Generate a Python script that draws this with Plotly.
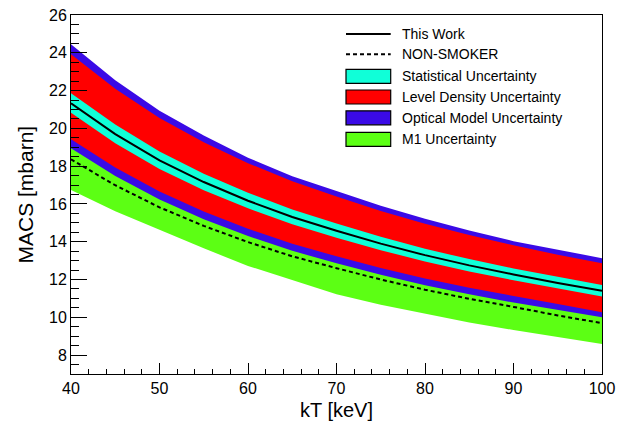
import plotly.graph_objects as go

kT = [40, 45, 50, 55, 60, 65, 70, 75, 80, 85, 90, 95, 100]
this_work = [21.33, 19.70, 18.31, 17.16, 16.17, 15.31, 14.58, 13.90, 13.29, 12.75, 12.27, 11.82, 11.41]
non_smoker = [18.36, 16.99, 15.82, 14.84, 13.98, 13.23, 12.60, 12.00, 11.46, 10.98, 10.55, 10.10, 9.69]
stat_hi = [21.86, 20.21, 18.78, 17.60, 16.59, 15.71, 14.96, 14.26, 13.63, 13.08, 12.59, 12.13, 11.71]
stat_lo = [20.83, 19.21, 17.85, 16.73, 15.77, 14.93, 14.21, 13.55, 12.96, 12.43, 11.96, 11.52, 11.10]
ld_hi = [23.92, 22.10, 20.55, 19.27, 18.16, 17.20, 16.39, 15.63, 14.95, 14.35, 13.81, 13.31, 12.86]
ld_lo = [19.42, 17.93, 16.66, 15.60, 14.69, 13.90, 13.23, 12.61, 12.05, 11.56, 11.12, 10.70, 10.27]
om_hi = [24.45, 22.55, 20.93, 19.62, 18.45, 17.47, 16.68, 15.90, 15.22, 14.60, 14.03, 13.56, 13.13]
om_lo = [18.95, 17.48, 16.23, 15.19, 14.30, 13.52, 12.86, 12.25, 11.70, 11.22, 10.78, 10.38, 10.00]
m1_hi = [19.42, 17.93, 16.66, 15.60, 14.69, 13.90, 13.23, 12.61, 12.05, 11.56, 11.12, 10.70, 10.27]
m1_lo = [16.74, 15.62, 14.62, 13.65, 12.72, 11.95, 11.22, 10.67, 10.18, 9.73, 9.33, 8.95, 8.59]

legend_labels = ["This Work", "NON-SMOKER", "Statistical Uncertainty", "Level Density Uncertainty",
                 "Optical Model Uncertainty", "M1 Uncertainty"]
x_title = "kT [keV]"
y_title = "MACS [mbarn]"

C_STAT = "#10FFD8"
C_LD = "#FF0000"
C_OM = "#3A0AE6"
C_M1 = "#5CFF14"
FONT = "Liberation Sans, Arial, Helvetica, sans-serif"

fig = go.Figure()


def band(hi, lo, color, name):
    fig.add_trace(go.Scatter(
        x=kT + kT[::-1], y=hi + lo[::-1], fill="toself", fillcolor=color,
        line=dict(width=0, color=color), mode="lines", name=name,
        showlegend=False, hoverinfo="skip"))


band(m1_hi, m1_lo, C_M1, legend_labels[5])
band(om_hi, om_lo, C_OM, legend_labels[4])
band(ld_hi, ld_lo, C_LD, legend_labels[3])
band(stat_hi, stat_lo, C_STAT, legend_labels[2])
fig.add_trace(go.Scatter(x=kT, y=non_smoker, mode="lines", name=legend_labels[1],
                         line=dict(color="black", width=2, dash="4px,3px"), showlegend=False))
fig.add_trace(go.Scatter(x=kT, y=this_work, mode="lines", name=legend_labels[0],
                         line=dict(color="black", width=2), showlegend=False))

# manual legend (ROOT style, no frame)
W, H = 531.0, 359.0
x0 = (346 - 71) / W
x1 = (390.7 - 71) / W
xt = (400 - 71) / W
rows = [34, 54.3, 76.3, 97, 117.8, 139.3]
shapes = []
annotations = []
for i, (py, lab) in enumerate(zip(rows, legend_labels)):
    yp = (374 - py) / H
    if i == 0:
        shapes.append(dict(type="line", xref="paper", yref="paper", x0=x0, x1=x1, y0=yp, y1=yp,
                           line=dict(color="black", width=2)))
    elif i == 1:
        shapes.append(dict(type="line", xref="paper", yref="paper", x0=x0, x1=x1, y0=yp, y1=yp,
                           line=dict(color="black", width=2, dash="4px,3px")))
    else:
        col = [C_STAT, C_LD, C_OM, C_M1][i - 2]
        hh = 7 / H
        shapes.append(dict(type="rect", xref="paper", yref="paper", x0=x0, x1=x1, y0=yp - hh, y1=yp + hh,
                           fillcolor=col, line=dict(color="black", width=1.2)))
    annotations.append(dict(xref="paper", yref="paper", x=xt, y=yp, text=lab, showarrow=False,
                            xanchor="left", yanchor="middle", font=dict(size=14, color="black", family=FONT)))

# axis titles
annotations.append(dict(xref="paper", yref="paper", x=(336.5 - 71) / W, y=(374 - 409.5) / H,
                        text=x_title, showarrow=False, xanchor="center", yanchor="middle",
                        font=dict(size=20, color="black", family=FONT)))
annotations.append(dict(xref="paper", yref="paper", x=(25 - 71) / W, y=0.5,
                        text=y_title, showarrow=False, xanchor="center", yanchor="middle", textangle=-90,
                        font=dict(size=21, color="black", family=FONT)))

fig.update_layout(
    width=624, height=422,
    margin=dict(l=71, r=22, t=15, b=48),
    paper_bgcolor="white", plot_bgcolor="white",
    font=dict(family=FONT, color="black"),
    shapes=shapes, annotations=annotations,
    showlegend=False,
)
fig.update_xaxes(
    range=[40, 100], dtick=10, tick0=40, ticks="inside", ticklen=11, tickwidth=1, tickcolor="black",
    minor=dict(dtick=2, ticks="inside", ticklen=5.5, tickwidth=1, tickcolor="black"),
    showline=True, linecolor="black", linewidth=1, mirror=True, showgrid=False, zeroline=False,
    tickfont=dict(size=16, family=FONT, color="black"),
    automargin=False,
)
fig.update_yaxes(
    range=[7, 26], dtick=2, tick0=8, ticks="inside", ticklen=16, tickwidth=1, tickcolor="black",
    minor=dict(dtick=0.5, ticks="inside", ticklen=8, tickwidth=1, tickcolor="black"),
    showline=True, linecolor="black", linewidth=1, mirror=True, showgrid=False, zeroline=False,
    tickfont=dict(size=16, family=FONT, color="black"),
    automargin=False,
)

fig.write_html("out.html", config={"displayModeBar": False},
               post_script="document.body.style.margin='0';")
